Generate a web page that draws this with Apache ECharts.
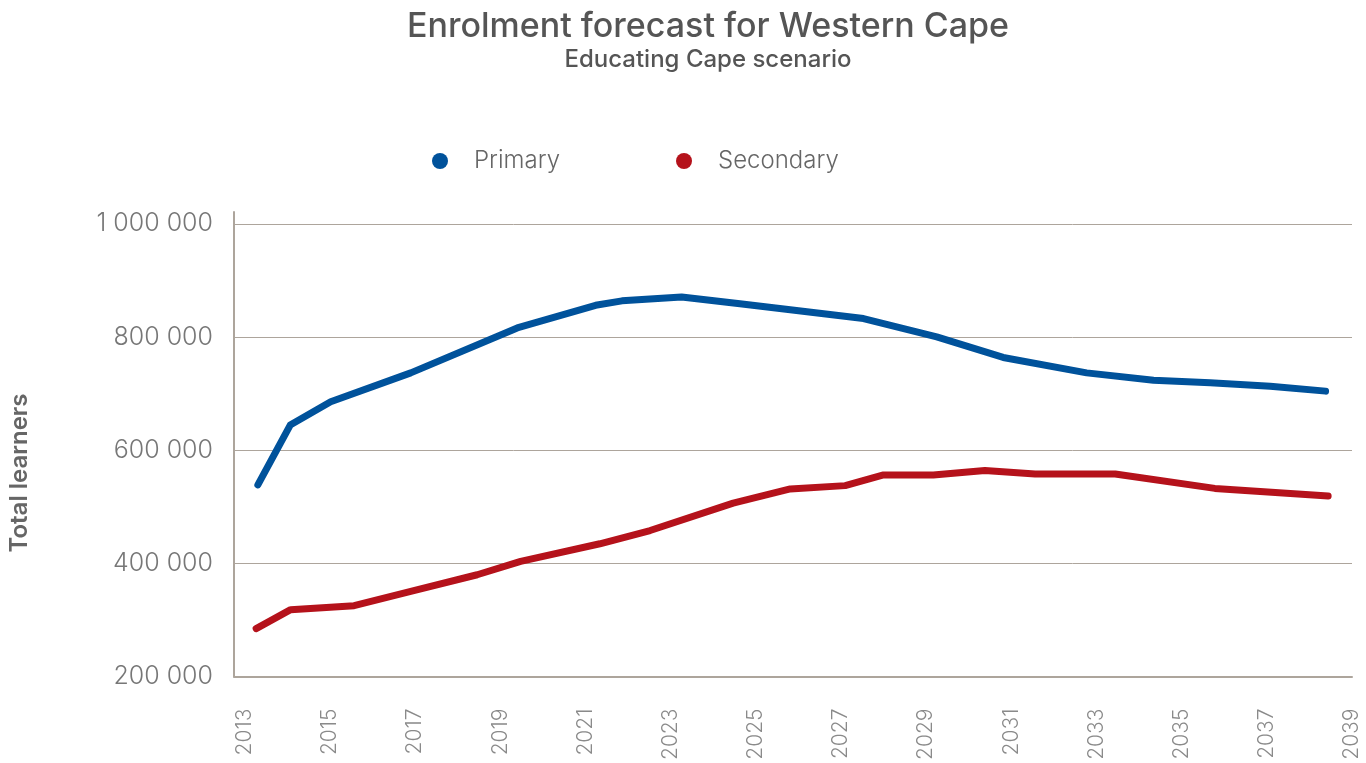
<!DOCTYPE html>
<html>
<head>
<meta charset="utf-8">
<style>
  html, body { margin: 0; padding: 0; background: #ffffff; }
  #chart { width: 1366px; height: 763px; }
</style>
<script src="https://cdn.jsdelivr.net/npm/echarts@6/dist/echarts.min.js"></script>
</head>
<body>
<div id="chart"></div>
<script>
// ---- data ----
const chartTitle = 'Enrolment forecast for Western Cape';
const chartSubtitle = 'Educating Cape scenario';
const yAxisTitle = 'Total learners';
const seriesNames = ['Primary', 'Secondary'];

const primaryYears  = [2013.31, 2014.07, 2015.02, 2016.90, 2019.40, 2021.24, 2021.86, 2023.26, 2024.63, 2027.53, 2029.25, 2030.81, 2032.77, 2034.34, 2035.67, 2037.08, 2038.38];
const primaryValues = [538600, 644400, 685500, 736700, 816100, 856100, 864000, 870700, 858700, 832600, 800200, 763900, 736700, 723800, 719100, 713200, 704400];

const secondaryYears  = [2013.27, 2014.08, 2015.57, 2016.90, 2018.46, 2019.48, 2021.34, 2022.52, 2024.47, 2025.81, 2027.10, 2028.00, 2029.17, 2030.38, 2031.56, 2033.44, 2035.78, 2038.44];
const secondaryValues = [284700, 318200, 325200, 350400, 379900, 403400, 434600, 458000, 506400, 531600, 537400, 556300, 556300, 564200, 558000, 558000, 532500, 519200];

const xTickYears = [2013, 2015, 2017, 2019, 2021, 2023, 2025, 2027, 2029, 2031, 2033, 2035, 2037, 2039];
const yTickValues = [200000, 400000, 600000, 800000, 1000000];

// ---- chart ----
const zip = (xs, ys) => xs.map((x, i) => [x, ys[i]]);
const fmtSpaces = v => String(Math.round(v)).replace(/\B(?=(\d{3})+(?!\d))/g, ' ');
const axisColor = '#ADA59C';
const FONT = 'Inter';

const chart = echarts.init(document.getElementById('chart'), null, { renderer: 'canvas' });
chart.setOption({
  backgroundColor: '#ffffff',
  animation: false,
  title: {
    text: chartTitle,
    subtext: chartSubtitle,
    left: 703,
    top: 5,
    textAlign: 'center',
    itemGap: 4,
    textStyle: { color: '#555555', fontSize: 34, fontWeight: 500, fontFamily: FONT },
    subtextStyle: { color: '#555555', fontSize: 24, fontWeight: 500, fontFamily: FONT }
  },
  legend: {
    data: seriesNames,
    left: 427,
    top: 144,
    icon: 'circle',
    itemWidth: 58,
    itemHeight: 16,
    itemGap: 116,
    textStyle: { color: '#666666', fontSize: 24, fontWeight: 300, fontFamily: FONT }
  },
  grid: { left: 234, right: 14, top: 212, bottom: 86, containLabel: false },
  xAxis: {
    type: 'value',
    min: 2012.75,
    max: 2039,
    axisLine: { show: true, onZero: false, lineStyle: { color: axisColor, width: 2 } },
    axisTick: { show: false },
    splitLine: { show: false },
    axisLabel: {
      customValues: xTickYears,
      rotate: 90,
      margin: 32,
      color: '#8a8a8a',
      fontSize: 21,
      fontWeight: 300,
      fontFamily: FONT,
      formatter: v => String(v)
    }
  },
  yAxis: {
    type: 'value',
    min: 200000,
    max: 1021000,
    interval: 200000,
    axisLine: { show: true, onZero: false, lineStyle: { color: axisColor, width: 2 } },
    axisTick: { show: false },
    splitLine: { show: true, showMinLine: true, showMaxLine: false, lineStyle: { color: axisColor, width: 1 } },
    axisLabel: {
      customValues: yTickValues,
      margin: 21,
      color: '#777777',
      fontSize: 25,
      fontWeight: 300,
      fontFamily: FONT,
      formatter: fmtSpaces
    }
  },
  graphic: [{
    type: 'text',
    x: 20,
    y: 473,
    rotation: Math.PI / 2,
    style: {
      text: yAxisTitle,
      fill: '#666666',
      font: '600 24px Inter',
      textAlign: 'center',
      textVerticalAlign: 'middle'
    }
  }],
  series: [
    {
      name: seriesNames[0],
      type: 'line',
      data: zip(primaryYears, primaryValues),
      symbol: 'none',
      color: '#00529B',
      lineStyle: { color: '#00529B', width: 7, cap: 'round', join: 'round' }
    },
    {
      name: seriesNames[1],
      type: 'line',
      data: zip(secondaryYears, secondaryValues),
      symbol: 'none',
      color: '#B5121B',
      lineStyle: { color: '#B5121B', width: 7, cap: 'round', join: 'round' }
    }
  ]
});
</script>
</body>
</html>
